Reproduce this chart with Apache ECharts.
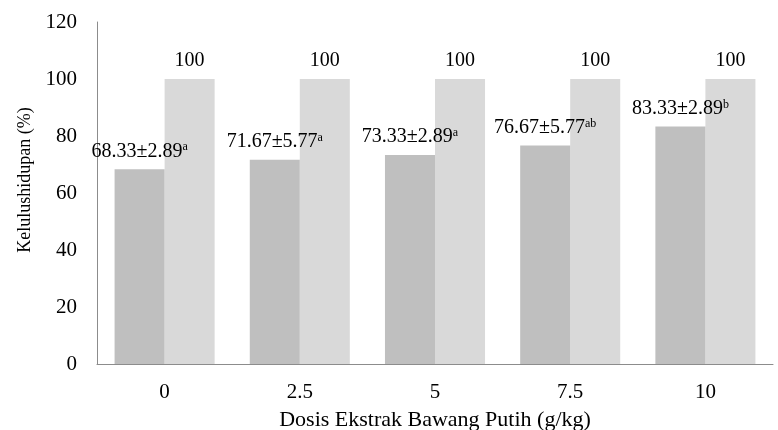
<!DOCTYPE html>
<html>
<head>
<meta charset="utf-8">
<script src="https://cdn.jsdelivr.net/npm/echarts@6/dist/echarts.min.js"></script>
<style>
  html, body { margin: 0; padding: 0; background: #fff; }
  #chart { width: 778px; height: 430px; }
</style>
</head>
<body>
<div id="chart"></div>
<script>
// Garlic extract dose (g/kg) on the category axis
const doses = ['0', '2.5', '5', '7.5', '10'];
// Survival rate (%) per dose, with standard deviation and significance letters
const survival = [68.33, 71.67, 73.33, 76.67, 83.33];
const survivalSD = ['2.89', '5.77', '2.89', '5.77', '2.89'];
const notation = ['a', 'a', 'a', 'ab', 'b'];
// Second bar of each pair
const secondBar = [100, 100, 100, 100, 100];
// Value axis range
const yMin = 0, yMax = 120, yStep = 20;

const FONT = '"Liberation Serif", "Times New Roman", serif';

const chart = echarts.init(document.getElementById('chart'), null, { renderer: 'canvas' });

chart.setOption({
  animation: false,
  backgroundColor: '#ffffff',
  textStyle: { fontFamily: FONT, color: '#000' },
  grid: { left: 97, right: 5, top: 22, bottom: 66, containLabel: false, outerBoundsMode: 'none' },
  xAxis: {
    type: 'category',
    data: doses,
    name: 'Dosis Ekstrak Bawang Putih (g/kg)',
    nameLocation: 'middle',
    nameGap: 45,
    nameTextStyle: { fontFamily: FONT, fontSize: 22, color: '#000' },
    axisLine: { show: true, lineStyle: { color: '#8c8c8c', width: 1 } },
    axisTick: { show: false },
    axisLabel: { fontFamily: FONT, fontSize: 21, color: '#000', margin: 18 }
  },
  yAxis: {
    type: 'value',
    min: yMin,
    max: yMax,
    interval: yStep,
    name: 'Kelulushidupan (%)',
    nameLocation: 'middle',
    nameGap: 62,
    nameTextStyle: { fontFamily: FONT, fontSize: 18, color: '#000', padding: [0, 0, 0, 26] },
    axisLine: { show: true, lineStyle: { color: '#8c8c8c', width: 1 } },
    axisTick: { show: false },
    splitLine: { show: false },
    axisLabel: { fontFamily: FONT, fontSize: 21, color: '#000', margin: 20 }
  },
  series: [
    {
      type: 'bar',
      data: survival,
      barGap: '0%',
      barCategoryGap: '26%',
      itemStyle: { color: '#bfbfbf' },
      z: 2,
      label: {
        show: true,
        position: 'top',
        distance: 8,
        formatter: function (p) {
          return '{v|' + p.value.toFixed(2) + '\u00b1' + survivalSD[p.dataIndex] + '}{sup|' + notation[p.dataIndex] + '}';
        },
        rich: {
          v: { fontFamily: FONT, fontSize: 20, color: '#000' },
          sup: { fontFamily: FONT, fontSize: 12, color: '#000', verticalAlign: 'top' }
        }
      }
    },
    {
      type: 'bar',
      data: secondBar,
      itemStyle: { color: '#d9d9d9' },
      z: 1,
      label: {
        show: true,
        position: 'top',
        distance: 8,
        fontFamily: FONT,
        fontSize: 20,
        color: '#000'
      }
    }
  ]
});
</script>
</body>
</html>
